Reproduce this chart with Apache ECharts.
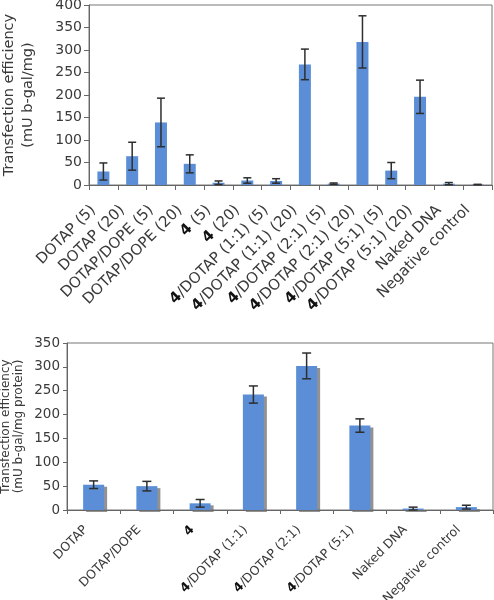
<!DOCTYPE html>
<html><head><meta charset="utf-8">
<script src="https://cdn.jsdelivr.net/npm/echarts@6/dist/echarts.min.js"></script>
<style>html,body{margin:0;padding:0;background:#fff}#c{width:494px;height:600px}</style>
</head><body><div id="c"></div>
<script>
const topCategories = ['DOTAP (5)','DOTAP (20)','DOTAP/DOPE (5)','DOTAP/DOPE (20)','4 (5)','4 (20)','4/DOTAP (1:1) (5)','4/DOTAP (1:1) (20)','4/DOTAP (2:1) (5)','4/DOTAP (2:1) (20)','4/DOTAP (5:1) (5)','4/DOTAP (5:1) (20)','Naked DNA','Negative control'];
const topValues = [30, 64, 139, 47, 5, 10, 9, 268, 3, 318, 32, 196, 3, 1];
const topErrors = [19, 31, 54, 20, 4, 6, 5, 34, 1.5, 58, 18, 37, 2.5, 0.5];
const topYTicks = [0, 50, 100, 150, 200, 250, 300, 350, 400];

const botCategories = ['DOTAP','DOTAP/DOPE','4','4/DOTAP (1:1)','4/DOTAP (2:1)','4/DOTAP (5:1)','Naked DNA','Negative control'];
const botValues = [53, 50, 14, 242, 302, 177, 3, 6];
const botErrors = [8, 10, 8, 18, 27, 14, 3, 4];
const botYTicks = [0, 50, 100, 150, 200, 250, 300, 350];

const FONT = 'DejaVu Sans';
const TXT = '#3a3a3a';
const BAR = '#5b8ed6';

function fmt(v){
  let s;
  if (v.charAt(0) === '4') s = '{b|4}{n|' + v.slice(1) + '}';
  else s = '{n|' + v + '}';
  return s + '{p| }';
}
function richFor(size, gap){
  return {
    n:{fontSize:size, color:TXT, fontFamily:FONT},
    b:{fontWeight:'bold', fontSize:size, color:'#111', fontFamily:FONT},
    p:{fontSize:size, width:gap}
  };
}
function errData(vals, errs){
  return vals.map((v,i)=>[i, v - errs[i], v + errs[i]]);
}
function errRender(half){
  return function(params, api){
    const x = api.value(0);
    const lo = api.coord([x, api.value(1)]);
    const hi = api.coord([x, api.value(2)]);
    const st = {stroke:'#2e2e2e', lineWidth:1.5};
    return {type:'group', children:[
      {type:'line', shape:{x1:hi[0],y1:hi[1],x2:lo[0],y2:lo[1]}, style:st},
      {type:'line', shape:{x1:hi[0]-half,y1:hi[1],x2:hi[0]+half,y2:hi[1]}, style:st},
      {type:'line', shape:{x1:lo[0]-half,y1:lo[1],x2:lo[0]+half,y2:lo[1]}, style:st}
    ]};
  };
}

const chart = echarts.init(document.getElementById('c'));
chart.setOption({
  animation:false,
  textStyle:{fontFamily:FONT},
  grid:[
    {left:89, right:2, top:5, height:180, show:true, borderColor:'#777', borderWidth:1, outerBoundsMode:'none', containLabel:false},
    {left:67, right:1, top:343, height:167, show:true, borderColor:'#777', borderWidth:1, outerBoundsMode:'none', containLabel:false}
  ],
  xAxis:[
    {type:'category', gridIndex:0, data:topCategories,
     axisLine:{lineStyle:{color:'#666'}}, axisTick:{show:true, length:5, lineStyle:{color:'#666'}},
     axisLabel:{rotate:45, interval:0, margin:13, fontSize:15, color:TXT, fontFamily:FONT, formatter:fmt,
       rich:richFor(15, 14)}},
    {type:'category', gridIndex:1, data:botCategories,
     axisLine:{lineStyle:{color:'#666'}}, axisTick:{show:true, length:4, lineStyle:{color:'#666'}},
     axisLabel:{rotate:45, interval:0, margin:10, fontSize:12.5, color:TXT, fontFamily:FONT, formatter:fmt,
       rich:richFor(12.5, 11)}}
  ],
  yAxis:[
    {type:'value', gridIndex:0, min:topYTicks[0], max:topYTicks[topYTicks.length-1], interval:50,
     axisLine:{show:true, lineStyle:{color:'#666'}}, axisTick:{show:true, length:5, lineStyle:{color:'#666'}},
     splitLine:{show:false},
     axisLabel:{fontSize:14, color:TXT, fontFamily:FONT, margin:7},
     name:'Transfection efficiency\n(mU b-gal/mg)', nameLocation:'middle', nameRotate:90, nameGap:51,
     nameTextStyle:{fontSize:14.5, color:TXT, fontFamily:FONT, lineHeight:19}},
    {type:'value', gridIndex:1, min:botYTicks[0], max:botYTicks[botYTicks.length-1], interval:50,
     axisLine:{show:true, lineStyle:{color:'#666'}}, axisTick:{show:true, length:4, lineStyle:{color:'#666'}},
     splitLine:{show:false},
     axisLabel:{fontSize:13.5, color:TXT, fontFamily:FONT, margin:7},
     name:'Transfection efficiency\n(mU b-gal/mg protein)', nameLocation:'middle', nameRotate:90, nameGap:42,
     nameMoveOverlap:false,
     nameTextStyle:{fontSize:12, color:TXT, fontFamily:FONT, lineHeight:12.5}}
  ],
  series:[
    {type:'bar', xAxisIndex:0, yAxisIndex:0, data:topValues, barWidth:12, itemStyle:{color:BAR}},
    {type:'custom', xAxisIndex:0, yAxisIndex:0, data:errData(topValues, topErrors), renderItem:errRender(4), z:5},
    {type:'bar', xAxisIndex:1, yAxisIndex:1, data:botValues, barWidth:21,
     itemStyle:{color:BAR, shadowColor:'rgba(110,110,110,0.75)', shadowOffsetX:3, shadowOffsetY:2, shadowBlur:0}},
    {type:'custom', xAxisIndex:1, yAxisIndex:1, data:errData(botValues, botErrors), renderItem:errRender(4.5), z:5}
  ]
});
</script></body></html>
